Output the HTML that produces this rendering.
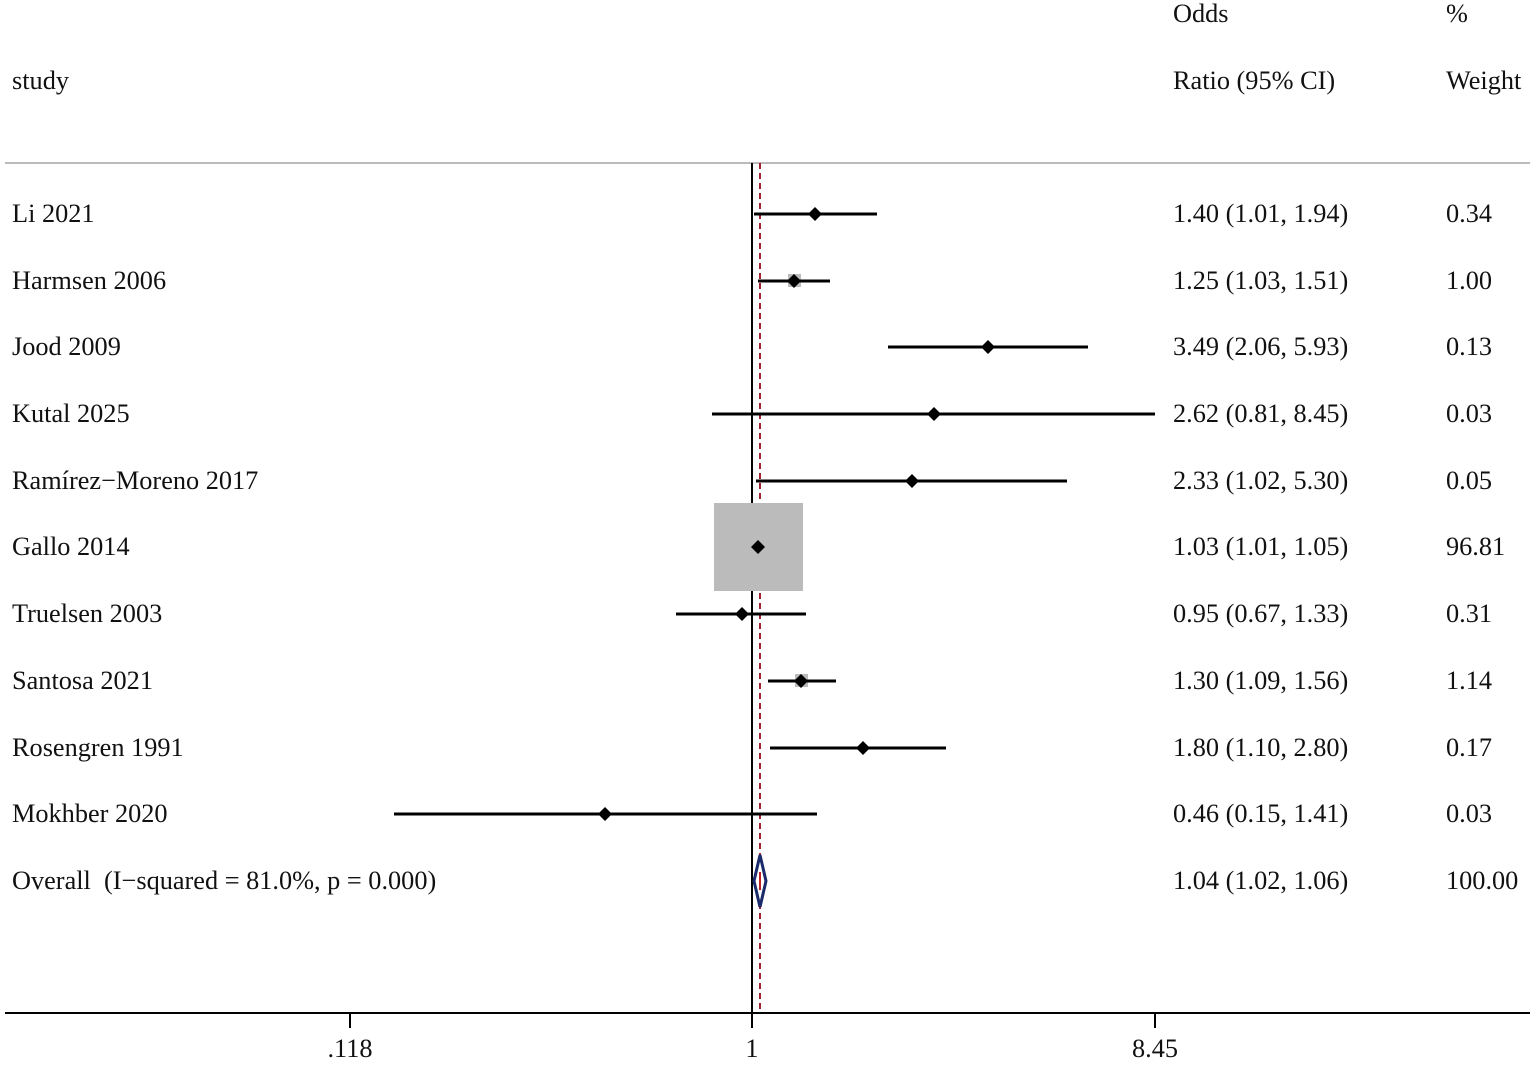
<!DOCTYPE html>
<html><head><meta charset="utf-8"><style>
html,body{margin:0;padding:0;background:#fff;}
svg text{font-family:"Liberation Serif",serif;font-size:26.3px;fill:#111;}
</style></head><body>
<svg width="1535" height="1063" xmlns="http://www.w3.org/2000/svg">
<text x="1173" y="22">Odds</text>
<text x="1446" y="22">%</text>
<text x="12" y="89">study</text>
<text x="1173" y="89">Ratio (95% CI)</text>
<text x="1446" y="89">Weight</text>
<line x1="5" y1="163" x2="1530" y2="163" stroke="#bbb" stroke-width="2"/>
<line x1="752" y1="163" x2="752" y2="1013" stroke="#000" stroke-width="2"/>
<line x1="760" y1="163" x2="760" y2="1013" stroke="#a02030" stroke-width="2" stroke-dasharray="6,4"/>
<rect x="714" y="503" width="89" height="88" fill="#bbb"/>
<rect x="788" y="274" width="13" height="13" fill="#bbb"/>
<rect x="795" y="674" width="13" height="13" fill="#bbb"/>
<g stroke="#000" stroke-width="3">
<line x1="754" y1="214" x2="877" y2="214"/>
<line x1="758" y1="281" x2="830" y2="281"/>
<line x1="888" y1="347" x2="1088" y2="347"/>
<line x1="712" y1="414" x2="1155" y2="414"/>
<line x1="756" y1="481" x2="1067" y2="481"/>
<line x1="676" y1="614" x2="806" y2="614"/>
<line x1="768" y1="681" x2="836" y2="681"/>
<line x1="770" y1="748" x2="946" y2="748"/>
<line x1="394" y1="814" x2="817" y2="814"/>
</g>
<g fill="#000">
<polygon points="815,207 822,214 815,221 808,214"/>
<polygon points="794,274 801,281 794,288 787,281"/>
<polygon points="988,340 995,347 988,354 981,347"/>
<polygon points="934,407 941,414 934,421 927,414"/>
<polygon points="912,474 919,481 912,488 905,481"/>
<polygon points="758,540 765,547 758,554 751,547"/>
<polygon points="742,607 749,614 742,621 735,614"/>
<polygon points="801,674 808,681 801,688 794,681"/>
<polygon points="863,741 870,748 863,755 856,748"/>
<polygon points="605,807 612,814 605,821 598,814"/>
</g>
<polygon points="760,855 766,881 760,907 754,881" fill="#fff" stroke="#1a2a6a" stroke-width="3"/>
<line x1="760" y1="872" x2="760" y2="890" stroke="#c02020" stroke-width="2"/>
<line x1="5" y1="1013" x2="1530" y2="1013" stroke="#000" stroke-width="2"/>
<g stroke="#000" stroke-width="2">
<line x1="350" y1="1013" x2="350" y2="1028"/>
<line x1="752" y1="1013" x2="752" y2="1028"/>
<line x1="1155" y1="1013" x2="1155" y2="1028"/>
</g>
<text x="350" y="1057" text-anchor="middle">.118</text>
<text x="752" y="1057" text-anchor="middle">1</text>
<text x="1155" y="1057" text-anchor="middle">8.45</text>
<g>
<text x="12" y="222">Li 2021</text><text x="1173" y="222">1.40 (1.01, 1.94)</text><text x="1446" y="222">0.34</text>
<text x="12" y="289">Harmsen 2006</text><text x="1173" y="289">1.25 (1.03, 1.51)</text><text x="1446" y="289">1.00</text>
<text x="12" y="355">Jood 2009</text><text x="1173" y="355">3.49 (2.06, 5.93)</text><text x="1446" y="355">0.13</text>
<text x="12" y="422">Kutal 2025</text><text x="1173" y="422">2.62 (0.81, 8.45)</text><text x="1446" y="422">0.03</text>
<text x="12" y="489">Ramírez−Moreno 2017</text><text x="1173" y="489">2.33 (1.02, 5.30)</text><text x="1446" y="489">0.05</text>
<text x="12" y="555">Gallo 2014</text><text x="1173" y="555">1.03 (1.01, 1.05)</text><text x="1446" y="555">96.81</text>
<text x="12" y="622">Truelsen 2003</text><text x="1173" y="622">0.95 (0.67, 1.33)</text><text x="1446" y="622">0.31</text>
<text x="12" y="689">Santosa 2021</text><text x="1173" y="689">1.30 (1.09, 1.56)</text><text x="1446" y="689">1.14</text>
<text x="12" y="756">Rosengren 1991</text><text x="1173" y="756">1.80 (1.10, 2.80)</text><text x="1446" y="756">0.17</text>
<text x="12" y="822">Mokhber 2020</text><text x="1173" y="822">0.46 (0.15, 1.41)</text><text x="1446" y="822">0.03</text>
<text x="12" y="889">Overall&#160; (I−squared = 81.0%, p = 0.000)</text><text x="1173" y="889">1.04 (1.02, 1.06)</text><text x="1446" y="889">100.00</text>
</g>
</svg>
</body></html>
